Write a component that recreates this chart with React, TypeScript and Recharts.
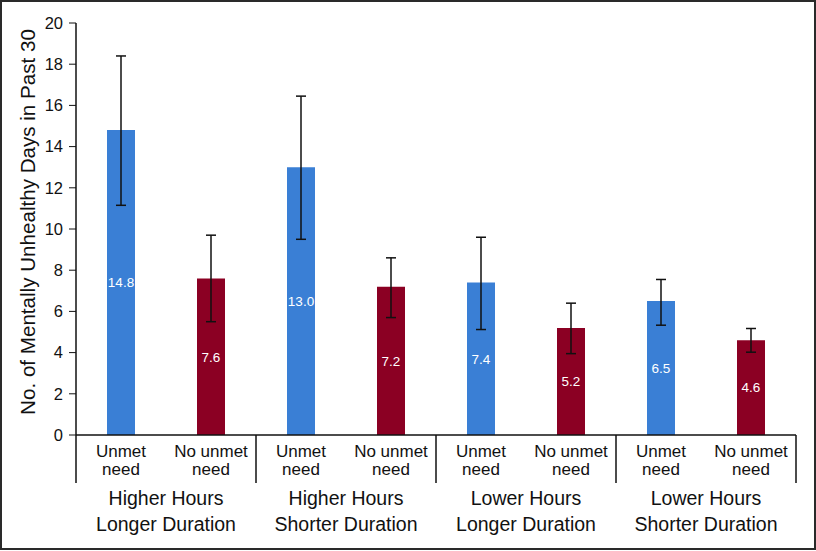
import React from 'react';
import { BarChart, Bar, XAxis, YAxis, ErrorBar, Cell, LabelList } from 'recharts';

// values (mean days, 95% CI bounds)
const GROUPS = ['Higher Hours\nLonger Duration', 'Higher Hours\nShorter Duration', 'Lower Hours\nLonger Duration', 'Lower Hours\nShorter Duration'];
const NEED = ['Unmet need', 'No unmet need', 'Unmet need', 'No unmet need', 'Unmet need', 'No unmet need', 'Unmet need', 'No unmet need'];
const MEANS = [14.8, 7.6, 13.0, 7.2, 7.4, 5.2, 6.5, 4.6];
const UPPER = [18.4, 9.7, 16.45, 8.6, 9.6, 6.4, 7.55, 5.17];
const LOWER = [11.15, 5.5, 9.5, 5.7, 5.12, 3.95, 5.33, 4.02];
const Y_TICKS = [0, 2, 4, 6, 8, 10, 12, 14, 16, 18, 20];

const BLUE = '#3a7fd5';
const RED = '#8b0023';
const FONT = '"Liberation Sans", Arial, Helvetica, sans-serif';

const W = 816;
const H = 551;
const Y_AXIS_W = 76;
const MARGIN = { top: 23, right: 20, bottom: 0, left: 0 };
const BAND = (W - Y_AXIS_W - MARGIN.right) / NEED.length;

const data = MEANS.map((v, i) => ({
  id: i,
  need: NEED[i],
  value: v,
  err: [+(v - LOWER[i]).toFixed(2), +(UPPER[i] - v).toFixed(2)],
}));

const CategoryTick = (props: any) => {
  const { x, y, index } = props;
  const [l1, l2] = NEED[index] === 'Unmet need' ? ['Unmet', 'need'] : ['No unmet', 'need'];
  const isFirst = index % 2 === 0;
  const isLast = index === NEED.length - 1;
  const group = GROUPS[Math.floor(index / 2)].split('\n');
  return (
    <g>
      <text x={x} y={y + 22} textAnchor="middle" fontSize={17} fill="#111" fontFamily={FONT}>{l1}</text>
      <text x={x} y={y + 40} textAnchor="middle" fontSize={17} fill="#111" fontFamily={FONT}>{l2}</text>
      {isFirst && (
        <>
          <line x1={x - BAND / 2} x2={x - BAND / 2} y1={y} y2={y + 48} stroke="#111" strokeWidth={1.5} />
          <text x={x + BAND / 2} y={y + 70} textAnchor="middle" fontSize={19.5} fill="#111" fontFamily={FONT}>{group[0]}</text>
          <text x={x + BAND / 2} y={y + 96} textAnchor="middle" fontSize={19.5} fill="#111" fontFamily={FONT}>{group[1]}</text>
        </>
      )}
      {isLast && <line x1={x + BAND / 2} x2={x + BAND / 2} y1={y} y2={y + 48} stroke="#111" strokeWidth={1.5} />}
    </g>
  );
};

const YLabel = () => (
  <text
    x={0}
    y={0}
    transform="translate(35, 222) rotate(-90)"
    textAnchor="middle"
    fontSize={20.6}
    fill="#111"
    fontFamily={FONT}
  >
    No. of Mentally Unhealthy Days in Past 30
  </text>
);

export default function App() {
  return (
    <div style={{ position: 'fixed', left: 0, top: 0, width: W, height: H, background: '#fff' }}>
      <BarChart width={W} height={H} data={data} margin={MARGIN} style={{ fontFamily: FONT }}>
        <XAxis
          dataKey="id"
          height={H - 435}
          tickLine={false}
          tickSize={0}
          tickMargin={0}
          axisLine={{ stroke: '#111', strokeWidth: 1.5 }}
          tick={<CategoryTick />}
          interval={0}
        />
        <YAxis
          width={Y_AXIS_W}
          domain={[0, 20]}
          ticks={Y_TICKS}
          interval={0}
          tickSize={7}
          tickMargin={6}
          tick={{ fontSize: 16.5, fill: '#111', fontFamily: FONT }}
          tickLine={{ stroke: '#111' }}
          axisLine={{ stroke: '#111', strokeWidth: 1.5 }}
          label={<YLabel />}
        />
        <Bar dataKey="value" barSize={28} isAnimationActive={false}>
          {data.map((d, i) => (
            <Cell key={i} fill={d.need === 'Unmet need' ? BLUE : RED} />
          ))}
          <LabelList
            dataKey="value"
            position="center"
            fill="#fff"
            fontSize={13.5}
            fontFamily={FONT}
            formatter={(v: any) => Number(v).toFixed(1)}
          />
          <ErrorBar dataKey="err" width={5} stroke="#111" strokeWidth={1.5} isAnimationActive={false} />
        </Bar>
      </BarChart>
      <div
        style={{
          position: 'absolute',
          left: 0,
          top: 0,
          width: 812,
          height: 546,
          border: '2px solid #2a2a2a',
          pointerEvents: 'none',
        }}
      />
    </div>
  );
}
